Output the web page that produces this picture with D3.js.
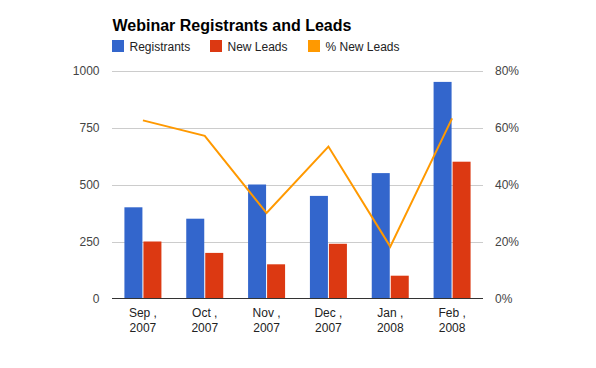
<!DOCTYPE html>
<html>
<head>
<meta charset="utf-8">
<script src="https://cdn.jsdelivr.net/npm/d3@7"></script>
<style>
  html, body { margin: 0; padding: 0; background: #fff; }
  text { font-family: "Liberation Sans", Arial, sans-serif; }
</style>
</head>
<body>
<div id="chart"></div>
<script>
// data
const months = ["Sep , 2007", "Oct , 2007", "Nov , 2007", "Dec , 2007", "Jan , 2008", "Feb , 2008"]
const registrants = [400, 350, 500, 450, 550, 950]
const newLeads = [250, 200, 150, 240, 100, 600]
const pctNewLeads = [62.5, 57.1, 30, 53.3, 18.2, 63.2]
const leftTicks = [0, 250, 500, 750, 1000]
const rightTicks = [0, 20, 40, 60, 80]
const seriesNames = ["Registrants", "New Leads", "% New Leads"]
const colors = ["#3366cc", "#dc3912", "#ff9900"]

const W = 596, H = 368
const m = { left: 112, right: 113, top: 70.5, bottom: 69.5 }

const svg = d3.select("#chart").append("svg")
    .attr("width", W)
    .attr("height", H)

var x = d3.scaleBand()
    .domain(months)
    .range([m.left, W - m.right])

var y = d3.scaleLinear().domain([0, 1000]).range([H - m.bottom, m.top])
var y2 = d3.scaleLinear().domain([0, 80]).range([H - m.bottom, m.top])

// gridlines
svg.append("g")
    .selectAll("line")
    .data(leftTicks.slice(1))
    .enter().append("line")
      .attr("x1", m.left).attr("x2", W - m.right)
      .attr("y1", d => Math.round(y(d)) + 0.5)
      .attr("y2", d => Math.round(y(d)) + 0.5)
      .style("stroke", "#cccccc")
      .style("stroke-width", 1)

// bars
var barW = 18, gap = 1
var groups = svg.append("g").attr("class", "bars")
groups.selectAll("rect.reg")
    .data(registrants)
    .enter().append("rect")
      .attr("x", (d, i) => x(months[i]) + x.bandwidth() / 2 - barW - gap / 2)
      .attr("y", d => y(d))
      .attr("width", barW)
      .attr("height", d => y(0) - y(d))
      .style("fill", colors[0])
groups.selectAll("rect.lead")
    .data(newLeads)
    .enter().append("rect")
      .attr("x", (d, i) => x(months[i]) + x.bandwidth() / 2 + gap / 2)
      .attr("y", d => y(d))
      .attr("width", barW)
      .attr("height", d => y(0) - y(d))
      .style("fill", colors[1])

// baseline
svg.append("line")
    .attr("x1", m.left).attr("x2", W - m.right)
    .attr("y1", y(0)).attr("y2", y(0))
    .style("stroke", "#333333")
    .style("stroke-width", 1)

// percent line
var line = d3.line()
    .x((d, i) => x(months[i]) + x.bandwidth() / 2)
    .y(d => y2(d))
svg.append("path")
    .datum(pctNewLeads)
    .attr("d", line)
    .style("fill", "none")
    .style("stroke", colors[2])
    .style("stroke-width", 2)

// left axis labels
svg.append("g")
    .selectAll("text")
    .data(leftTicks)
    .enter().append("text")
      .attr("x", 99.5)
      .attr("y", d => y(d) + 4.5)
      .attr("text-anchor", "end")
      .style("font-size", "12px")
      .style("fill", "#444444")
      .text(d => d)

// right axis labels
svg.append("g")
    .selectAll("text")
    .data(rightTicks)
    .enter().append("text")
      .attr("x", 495)
      .attr("y", d => y2(d) + 4.5)
      .style("font-size", "12px")
      .style("fill", "#444444")
      .text(d => d + "%")

// category labels, two lines each
var xl = svg.append("g")
    .selectAll("text")
    .data(months)
    .enter().append("text")
      .attr("text-anchor", "middle")
      .style("font-size", "12px")
      .style("fill", "#222222")
xl.append("tspan")
    .attr("x", d => x(d) + x.bandwidth() / 2)
    .attr("y", 316.7)
    .text(d => d.split(" , ")[0] + " ,")
xl.append("tspan")
    .attr("x", d => x(d) + x.bandwidth() / 2)
    .attr("y", 332.3)
    .text(d => d.split(" , ")[1])

// title
svg.append("text")
    .attr("x", 112.5)
    .attr("y", 30.5)
    .style("font-size", "16px")
    .style("font-weight", "bold")
    .style("fill", "#000")
    .text("Webinar Registrants and Leads")

// legend
var legX = [112, 210, 308]
var leg = svg.append("g")
    .selectAll("g")
    .data(seriesNames)
    .enter().append("g")
      .attr("transform", (d, i) => "translate(" + legX[i] + ",40)")
leg.append("rect")
    .attr("width", 12).attr("height", 12)
    .style("fill", (d, i) => colors[i])
leg.append("text")
    .attr("x", 17.5)
    .attr("y", 10.5)
    .style("font-size", "12px")
    .style("fill", "#222222")
    .text(d => d)
</script>
</body>
</html>
